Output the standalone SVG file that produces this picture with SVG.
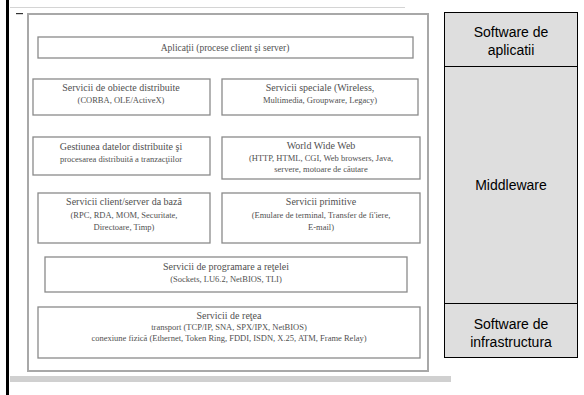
<svg xmlns="http://www.w3.org/2000/svg" width="584" height="395" viewBox="0 0 584 395">
<style>
.bx{fill:#fff;stroke:#8a8a8a;stroke-width:1.3}
.t{font-family:"Liberation Serif","Times New Roman",serif;fill:#505050;text-anchor:middle}
.h{font-size:10px}
.s{font-size:8.5px}
.side{fill:#dedede;stroke:#000;stroke-width:1}
.st{font-family:"Liberation Sans",Arial,sans-serif;font-size:14px;fill:#000;text-anchor:middle}
</style>
<rect width="584" height="395" fill="#fff"/>
<rect x="6" y="0" width="3" height="395" fill="#000"/>
<line x1="10" y1="7.5" x2="405" y2="7.5" stroke="#d4d4d4" stroke-width="1"/>
<rect x="16" y="13" width="7" height="1.2" fill="#333"/>
<rect x="10" y="376" width="441" height="6" fill="#d0d0d0"/>
<g id="outer"><rect x="28" y="14" width="400" height="357" fill="#fff" stroke="#a8a8a8" stroke-width="2"/></g>
<g id="n1"><rect class="bx" x="38" y="37" width="375" height="21"/><text class="t h" x="225" y="50.5" style="font-size:9.5px">Aplicaţii (procese client şi server)</text></g>
<g id="n2"><rect class="bx" x="33" y="79" width="177" height="36"/><text class="t h" x="121" y="91">Servicii de obiecte distribuite</text><text class="t s" x="121" y="103">(CORBA, OLE/ActiveX)</text></g>
<g id="n3"><rect class="bx" x="222" y="79" width="196" height="36"/><text class="t h" x="320" y="91">Servicii speciale (Wireless,</text><text class="t s" x="320" y="103">Multimedia, Groupware, Legacy)</text></g>
<g id="n4"><rect class="bx" x="33" y="137" width="177" height="38"/><text class="t h" x="121" y="150">Gestiunea datelor distribuite şi</text><text class="t s" x="121" y="162">procesarea distribuită a tranzacţiilor</text></g>
<g id="n5"><rect class="bx" x="222" y="137" width="198" height="42"/><text class="t h" x="321" y="149">World Wide Web</text><text class="t s" x="321" y="161">(HTTP, HTML, CGI, Web browsers, Java,</text><text class="t s" x="321" y="172">servere, motoare de căutare</text></g>
<g id="n6"><rect class="bx" x="38" y="193" width="172" height="50"/><text class="t h" x="124" y="205">Servicii client/server da bază</text><text class="t s" x="124" y="218">(RPC, RDA, MOM, Securitate,</text><text class="t s" x="124" y="230">Directoare, Timp)</text></g>
<g id="n7"><rect class="bx" x="222" y="193" width="198" height="50"/><text class="t h" x="321" y="205">Servicii primitive</text><text class="t s" x="321" y="218">(Emulare de terminal, Transfer de fi'iere,</text><text class="t s" x="321" y="230">E-mail)</text></g>
<g id="n8"><rect class="bx" x="45" y="257" width="362" height="35"/><text class="t h" x="226" y="270">Servicii de programare a reţelei</text><text class="t s" x="226" y="282">(Sockets, LU6.2, NetBIOS, TLI)</text></g>
<g id="n9"><rect class="bx" x="38" y="307" width="382" height="51"/><text class="t h" x="229" y="319">Servicii de reţea</text><text class="t s" x="229" y="330">transport (TCP/IP, SNA, SPX/IPX, NetBIOS)</text><text class="t s" x="229" y="341">conexiune fizică (Ethernet, Token Ring, FDDI, ISDN, X.25, ATM, Frame Relay)</text></g>
<g id="side">
<rect class="side" x="444.5" y="12.5" width="133" height="54"/>
<rect class="side" x="444.5" y="66.5" width="133" height="237"/>
<rect class="side" x="444.5" y="303.5" width="133" height="54"/>
<text class="st" x="511" y="37">Software de</text><text class="st" x="511" y="55">aplicatii</text>
<text class="st" x="511" y="190">Middleware</text>
<text class="st" x="511" y="329">Software de</text><text class="st" x="511" y="347">infrastructura</text>
</g>
</svg>
